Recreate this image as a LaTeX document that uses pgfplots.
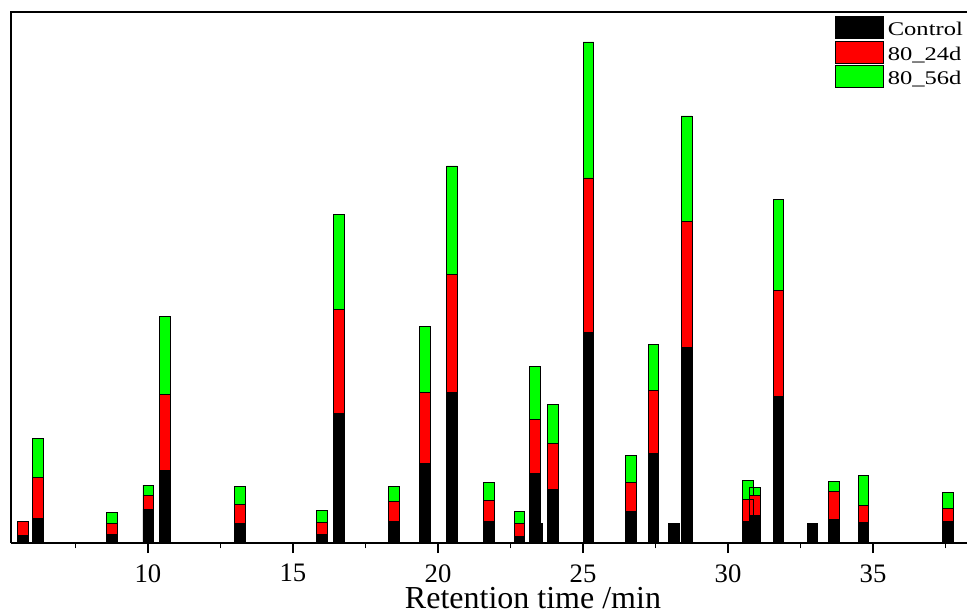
\documentclass[border=0pt]{standalone}
\usepackage{fontspec}
\setmainfont{Liberation Serif}
\newfontfamily\legfont[FakeStretch=1.27]{Liberation Serif}
\usepackage{pgfplots}
\pgfplotsset{compat=1.18}
\usepackage{pgfplotstable}
\pgfplotsset{mylegimg/.style={legend image code/.code={\draw[##1] (0pt,-8.25pt) rectangle (36pt,8.25pt);}}}
\pgfplotstableread{
x c r g
5.69 8 14 0
6.21 25 41 39
8.76 9 11 11
10.01 34 14 10
10.59 73 76 78
13.17 20 19 18
16.00 9 12 12
16.59 130 104 95
18.48 22 20 15
19.55 80 71 66
20.48 151 118 108
21.76 22 21 18
22.81 7 13 12
23.34 70 54 53
23.43 20 0 0
23.97 54 46 39
25.19 211 154 136
26.64 32 29 27
27.43 90 63 46
28.14 20 0 0
28.57 196 126 105
30.69 22 22 19
30.93 28 20 8
31.74 147 106 91
32.91 20 0 0
33.66 24 28 10
34.67 21 17 30
37.59 22 13 16
}\datatable
\begin{document}
\begin{tikzpicture}
\begin{axis}[
  x=21.75pt, y=0.75pt,
  xmin=5.276, xmax=38.241, ymin=0, ymax=531,
  axis x line*=bottom, axis y line*=left,
  axis line style={-, line width=1.5pt},
  ytick=\empty,
  xtick={10,15,20,25,30,35},
  minor xtick={7.5,12.5,17.5,22.5,27.5,32.5,37.5},
  tick align=outside,
  major tick length=7.5pt, minor tick length=4pt,
  every tick/.style={black, line width=1.3pt},
  /pgf/number format/assume math mode=true,
  ticklabel style={font=\fontsize{20}{24}\selectfont},
  xticklabel style={yshift=-5pt},
  xlabel={Retention time /min},
  xlabel style={font=\fontsize{24}{28}\selectfont, at={(rel axis cs:0.546,0)}, anchor=base, yshift=-49pt},
  ybar stacked, bar width=0.37,
  clip=false,
  legend style={at={(axis cs:33.69,527)}, anchor=north west, draw=none, fill=none,
    font=\legfont\fontsize{14.5}{16}\selectfont, inner sep=0pt, outer sep=0pt,
    nodes={inner sep=0pt, outer sep=0pt, text height=14.25pt, text depth=2.25pt}, row sep=1.4pt, column sep=3pt},
  legend cell align=left,
]
\addplot[fill=black, draw=black, line width=0.6pt, mylegimg] table[x=x,y=c] {\datatable};
\addlegendentry{Control}
\addplot[fill=red, draw=black, line width=0.6pt, mylegimg] table[x=x,y=r] {\datatable};
\addlegendentry{80\_24d}
\addplot[fill=green, draw=black, line width=0.6pt, mylegimg] table[x=x,y=g] {\datatable};
\addlegendentry{80\_56d}
\draw[line width=1.5pt, line cap=rect] (rel axis cs:0,1) -- (rel axis cs:1,1);
\coordinate (BL) at (axis cs:4.897,-70);
\coordinate (TR) at (axis cs:38.241,543);
\end{axis}
\pgfresetboundingbox
\useasboundingbox (BL) rectangle (TR);
\end{tikzpicture}
\end{document}
